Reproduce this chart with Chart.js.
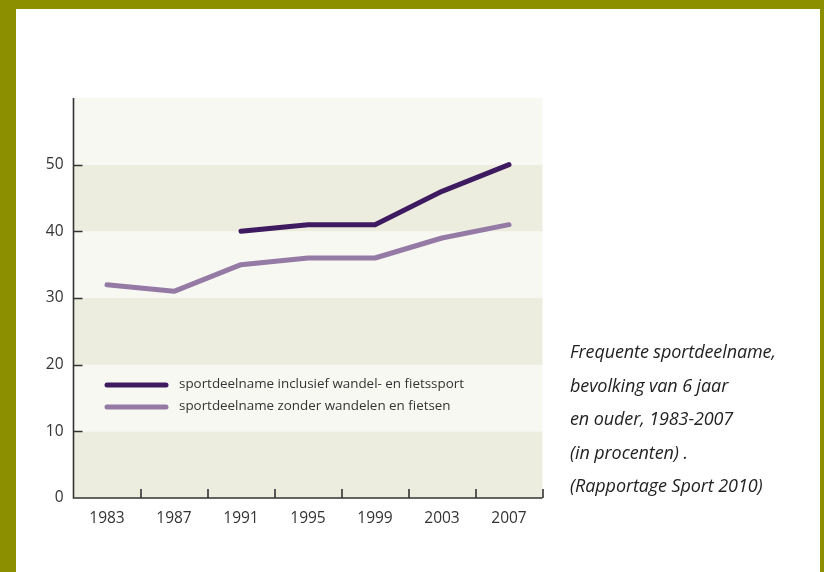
<!DOCTYPE html>
<html>
<head>
<meta charset="utf-8">
<script src="https://cdn.jsdelivr.net/npm/chart.js@4.4.0/dist/chart.umd.min.js"></script>
<style>
  html, body { margin: 0; padding: 0; }
  body { width: 824px; height: 572px; background: #8c9000; position: relative; overflow: hidden; }
  #inner { position: absolute; left: 16px; top: 9px; width: 804px; height: 563px; background: #ffffff; }
  #wrap { position: absolute; left: 0; top: 0; width: 824px; height: 572px; }
  #caption { position: absolute; left: 570px; top: 335px; font-family: "Open Sans", sans-serif; font-style: italic;
             font-size: 18px; line-height: 33.5px; color: #222; letter-spacing: -0.1px; white-space: nowrap; }
</style>
</head>
<body>
<div id="inner"></div>
<div id="wrap"><canvas id="c" width="824" height="572"></canvas></div>
<div id="caption">Frequente sportdeelname,<br>bevolking van 6 jaar<br>en ouder, 1983-2007<br>(in procenten) .<br>(Rapportage Sport 2010)</div>
<script>
const years = ['1983', '1987', '1991', '1995', '1999', '2003', '2007'];
const inclusief = [null, null, 40, 41, 41, 46, 50];
const zonder = [32, 31, 35, 36, 36, 39, 41];
const seriesLabels = ['sportdeelname inclusief wandel- en fietssport', 'sportdeelname zonder wandelen en fietsen'];
const yTicks = [0, 10, 20, 30, 40, 50];

const AXIS = '#333333';
const BAND_A = '#ecedde';
const BAND_B = '#f8f8f3';

const bandsPlugin = {
  id: 'bands',
  beforeDraw(chart) {
    const { ctx, chartArea: a, scales: { y } } = chart;
    ctx.save();
    for (let v = 0; v < 60; v += 10) {
      const top = y.getPixelForValue(v + 10), bot = y.getPixelForValue(v);
      ctx.fillStyle = (v / 10) % 2 === 0 ? BAND_A : BAND_B;
      ctx.fillRect(a.left, top, a.right - a.left, bot - top);
    }
    ctx.restore();
  },
  afterDraw(chart) {
    const { ctx, chartArea: a, scales: { x, y } } = chart;
    ctx.save();
    ctx.strokeStyle = AXIS;
    ctx.lineWidth = 1.6;
    ctx.beginPath();
    yTicks.forEach(v => {
      if (v === 0) return;
      const py = Math.round(y.getPixelForValue(v)) + 0.5;
      ctx.moveTo(a.left, py); ctx.lineTo(a.left + 9, py);
    });
    const step = x.getPixelForValue(1) - x.getPixelForValue(0);
    for (let i = 0; i < years.length; i++) {
      const px = Math.round(x.getPixelForValue(i) + step / 2);
      ctx.moveTo(px, a.bottom); ctx.lineTo(px, a.bottom - 9);
    }
    ctx.stroke();
    ctx.beginPath();
    ctx.moveTo(a.left, a.top); ctx.lineTo(a.left, a.bottom); ctx.lineTo(a.right, a.bottom);
    ctx.stroke();
    const ds = chart.data.datasets;
    const lx0 = x.getPixelForValue(0), lx1 = lx0 + 59;
    const rows = [385, 407];
    ds.forEach((d, i) => {
      ctx.strokeStyle = d.borderColor;
      ctx.lineWidth = 5;
      ctx.lineCap = 'round';
      ctx.beginPath();
      ctx.moveTo(lx0, rows[i]); ctx.lineTo(lx1, rows[i]);
      ctx.stroke();
      ctx.fillStyle = '#333';
      ctx.font = '13.4px "Open Sans", sans-serif';
      ctx.textBaseline = 'middle';
      ctx.fillText(d.label, lx1 + 13, rows[i] - 1);
    });
    ctx.restore();
  }
};

new Chart(document.getElementById('c'), {
  type: 'line',
  data: {
    labels: years,
    datasets: [
      { label: seriesLabels[0], data: inclusief, borderColor: '#3e1a60', borderWidth: 5, pointRadius: 0,
        borderCapStyle: 'round', borderJoinStyle: 'round', tension: 0, spanGaps: false },
      { label: seriesLabels[1], data: zonder, borderColor: '#947aa5', borderWidth: 5, pointRadius: 0,
        borderCapStyle: 'round', borderJoinStyle: 'round', tension: 0 }
    ]
  },
  options: {
    responsive: false,
    animation: false,
    devicePixelRatio: 1,
    layout: { padding: { left: 20, right: 281.5, top: 98, bottom: 34 } },
    plugins: { legend: { display: false }, tooltip: { enabled: false } },
    scales: {
      x: {
        type: 'category',
        offset: true,
        grid: { display: false, offset: true, drawTicks: false },
        border: { display: false },
        ticks: { color: '#333', font: { family: '"Open Sans", sans-serif', size: 15.5 }, padding: 11, maxRotation: 0 },
        afterFit(s) { s.height = 40; }
      },
      y: {
        min: 0, max: 60,
        afterBuildTicks(s) { s.ticks = yTicks.map(v => ({ value: v })); },
        grid: { display: false, drawTicks: false },
        border: { display: false },
        ticks: { color: '#333', font: { family: '"Open Sans", sans-serif', size: 15.5 }, padding: 10 },
        afterFit(s) { s.width = 53.5; }
      }
    }
  },
  plugins: [bandsPlugin]
});
</script>
</body>
</html>
